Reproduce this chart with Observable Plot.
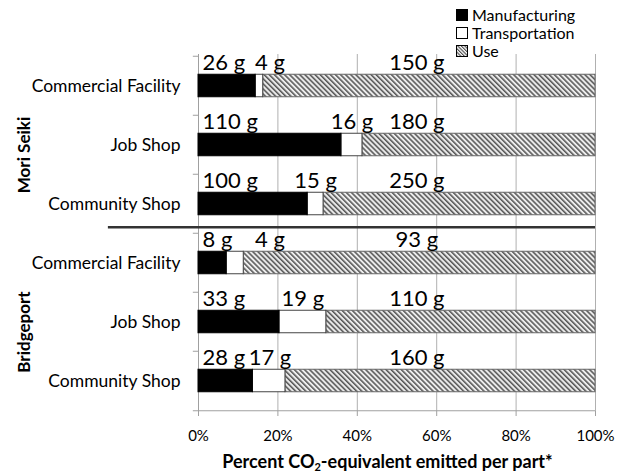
<!DOCTYPE html>
<html>
<head>
<meta charset="utf-8">
<script src="https://cdn.jsdelivr.net/npm/d3@7"></script>
<script src="https://cdn.jsdelivr.net/npm/@observablehq/plot@0.6"></script>
<style>
  html, body { margin: 0; padding: 0; background: #fff; }
  #wrap { position: relative; width: 617px; height: 473px; font-family: Lato, "Open Sans", sans-serif; }
  #legend { position: absolute; left: 456px; top: 6px; font-size: 16px; line-height: 18px; color: #000; }
  #legend .row { display: flex; align-items: center; height: 18px; }
  #legend svg { margin-right: 4px; }
  #xtitle { position: absolute; left: 0; width: 775px; top: 450px; text-align: center; font-weight: bold; font-size: 18px; line-height: 22px; color: #000; }
  #xtitle sub { font-size: 11px; vertical-align: -3px; line-height: 0; }
</style>
</head>
<body>
<div id="wrap">
  <div id="chart"></div>
  <div id="legend"></div>
  <div id="xtitle">Percent CO<sub>2</sub>-equivalent emitted per part*</div>
</div>
<script>
// ---- data ----
const groups = ["Mori Seiki", "Mori Seiki", "Mori Seiki", "Bridgeport", "Bridgeport", "Bridgeport"];
const categories = ["Commercial Facility", "Job Shop", "Community Shop", "Commercial Facility", "Job Shop", "Community Shop"];
const manufacturingPct = [14.4, 36.0, 27.5, 7.1, 20.4, 13.7];
const transportationPct = [1.9, 5.3, 4.0, 4.3, 11.8, 8.2];
const usePct = [83.7, 58.7, 68.5, 88.6, 67.8, 78.1];
const manufacturingLabel = ["26 g", "110 g", "100 g", "8 g", "33 g", "28 g"];
const transportationLabel = ["4 g", "16 g", "15 g", "4 g", "19 g", "17 g"];
const useLabel = ["150 g", "180 g", "250 g", "93 g", "110 g", "160 g"];
const series = ["Manufacturing", "Transportation", "Use"];
const xTicks = [0, 20, 40, 60, 80, 100];

// ---- build tables ----
const keys = categories.map((c, i) => groups[i] + "|" + c);
const rows = keys.map((k, i) => {
  const m = manufacturingPct[i], t = transportationPct[i], u = usePct[i];
  return {key: k, m0: 0, m1: m, t0: m, t1: m + t, u0: m + t, u1: m + t + u,
          ml: manufacturingLabel[i], tl: transportationLabel[i], ul: useLabel[i]};
});

const W = 617, H = 473;
const mTop = 54, mBottom = 62, mLeft = 198, mRight = 22;
const step = (H - mTop - mBottom) / keys.length;   // band step
const barH = 23;
const inset = (step - barH) / 2;

const chart = Plot.plot({
  width: W, height: H,
  marginTop: mTop, marginBottom: mBottom, marginLeft: mLeft, marginRight: mRight,
  style: {fontFamily: "Lato, 'Open Sans', sans-serif", fontSize: "16px", color: "#000", background: "#fff"},
  x: {domain: [0, 100]},
  y: {type: "band", domain: keys, padding: 0},
  marks: [
    Plot.gridX(xTicks.slice(1), {stroke: "#b0b0b0", strokeOpacity: 1}),
    Plot.axisX(xTicks, {tickSize: 5, tickPadding: 14, tickFormat: d => d + "%", stroke: "#a0a0a0", fontSize: 15, label: null}),
    Plot.axisY({tickSize: 0, tickPadding: 18, tickFormat: d => d.split("|")[1], fontSize: 17.5, label: null}),
    // bottom axis line
    Plot.ruleY([keys[keys.length - 1]], {dy: step / 2, x1: -1.3, x2: 100, stroke: "#a0a0a0"}),
    // category boundary ticks
    Plot.ruleY(keys, {dy: -step / 2, x1: -1.3, x2: 0, stroke: "#a0a0a0"}),
    Plot.ruleX([0], {stroke: "#a0a0a0"}),
    // bars
    Plot.barX(rows, {y: "key", x1: "u0", x2: "u1", fill: "url(#hatch)", stroke: "#666", strokeWidth: 1, insetTop: inset, insetBottom: inset}),
    Plot.barX(rows, {y: "key", x1: "t0", x2: "t1", fill: "#fff", stroke: "#444", strokeWidth: 1, insetTop: inset, insetBottom: inset}),
    Plot.barX(rows, {y: "key", x1: "m0", x2: "m1", fill: "#000", stroke: "#000", strokeWidth: 1, insetTop: inset, insetBottom: inset}),
    // value labels
    Plot.text(rows, {y: "key", x: "m0", text: "ml", textAnchor: "start", dx: 4, dy: -23, fontSize: 22, fill: "#000"}),
    Plot.text(rows, {y: "key", x: d => Math.max((d.t0 + d.t1) / 2, 18), text: "tl", textAnchor: "middle", dy: -23, fontSize: 22, fill: "#000"}),
    Plot.text(rows, {y: "key", x: () => 55, text: "ul", textAnchor: "middle", dy: -23, fontSize: 22, fill: "#000"}),
    // group separator
    Plot.ruleY([keys[2]], {dy: step / 2 - 6.5, x1: -22.7, x2: 100, stroke: "#333", strokeWidth: 2.5}),
    // group labels
    Plot.text([keys[1], keys[4]], {y: d => d, text: d => d.split("|")[0], frameAnchor: "left", dx: 24.5 - mLeft, dy: 10,
      rotate: -90, textAnchor: "middle", lineAnchor: "middle", fontWeight: "bold", fontSize: 17, fill: "#000"})
  ]
});

// hatch pattern
const defs = document.createElementNS("http://www.w3.org/2000/svg", "defs");
defs.innerHTML = `<pattern id="hatch" patternUnits="userSpaceOnUse" width="3.6" height="3.6" patternTransform="rotate(-45)">
  <rect width="3.6" height="3.6" fill="#ececec"></rect>
  <line x1="0.8" y1="0" x2="0.8" y2="3.6" stroke="#3a3a3a" stroke-width="1.3"></line>
</pattern>`;
chart.insertBefore(defs, chart.firstChild);
document.getElementById("chart").appendChild(chart);

// legend
const legendFill = {Manufacturing: "#000", Transportation: "#fff", Use: "url(#hatchL)"};
const legend = document.getElementById("legend");
series.forEach(s => {
  const row = document.createElement("div");
  row.className = "row";
  row.innerHTML = `<svg width="12" height="12"><defs><pattern id="hatchL" patternUnits="userSpaceOnUse" width="2.5" height="2.5" patternTransform="rotate(-45)"><rect width="2.5" height="2.5" fill="#fff"></rect><line x1="0.6" y1="0" x2="0.6" y2="2.5" stroke="#333" stroke-width="1"></line></pattern></defs><rect x="0.5" y="0.5" width="11" height="11" fill="${legendFill[s]}" stroke="#000"></rect></svg><span>${s}</span>`;
  legend.appendChild(row);
});
</script>
</body>
</html>
